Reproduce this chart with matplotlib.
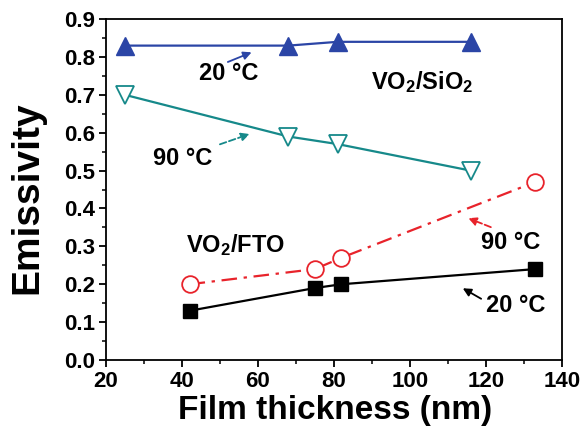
import matplotlib
matplotlib.use("Agg")
import matplotlib.pyplot as plt
from matplotlib.font_manager import FontProperties

plt.rcParams['font.family'] = ['Liberation Sans', 'DejaVu Sans']
plt.rcParams['font.weight'] = 'bold'
plt.rcParams['mathtext.fontset'] = 'custom'
plt.rcParams['mathtext.rm'] = 'Liberation Sans:bold'
plt.rcParams['mathtext.bf'] = 'Liberation Sans:bold'
plt.rcParams['mathtext.default'] = 'bf'

x_sio2 = [25, 68, 81, 116]
y_sio2_20 = [0.83, 0.83, 0.84, 0.84]
y_sio2_90 = [0.70, 0.59, 0.57, 0.50]
x_fto = [42, 75, 82, 133]
y_fto_90 = [0.20, 0.24, 0.27, 0.47]
y_fto_20 = [0.13, 0.19, 0.20, 0.24]

xticks = [20, 40, 60, 80, 100, 120, 140]
yticks = [0.0, 0.1, 0.2, 0.3, 0.4, 0.5, 0.6, 0.7, 0.8, 0.9]

blue = '#2b45a6'
teal = '#16898a'
red = '#e8232b'

fig = plt.figure(figsize=(5.84, 4.34), dpi=100)
ax = fig.add_axes([0.1815, 0.1705, 0.7805, 0.7855])

ax.plot(x_sio2, y_sio2_20, '-^', color=blue, mfc=blue, mec=blue, ms=13, lw=1.6)
ax.plot(x_sio2, y_sio2_90, '-v', color=teal, mfc='white', mec=teal, ms=13, lw=1.6, mew=1.3)
ax.plot(x_fto, y_fto_90, '-.o', color=red, mfc='white', mec=red, ms=12, lw=1.6, mew=1.3,
        dashes=[7, 3, 1.5, 3])
ax.plot(x_fto, y_fto_20, '-s', color='black', mfc='black', ms=10, lw=1.6)

ax.set_xlim(20, 140)
ax.set_ylim(0.0, 0.9)
ax.set_xticks(xticks)
ax.set_yticks(yticks)
ax.set_xticks([30, 50, 70, 90, 110, 130], minor=True)
ax.set_yticks([0.05 + 0.1 * i for i in range(9)], minor=True)
ax.tick_params(which='major', direction='out', length=5, width=1.3, pad=3)
ax.tick_params(which='minor', direction='out', length=3, width=1.1)
tfp = FontProperties(family='Liberation Sans', weight='bold', size=16)
ax.set_xticklabels([str(v) for v in xticks], fontproperties=tfp)
ax.set_yticklabels([f'{v:.1f}' for v in yticks], fontproperties=tfp)
for s in ax.spines.values():
    s.set_linewidth(1.3)

ax.set_xlabel('Film thickness (nm)', fontsize=24, fontweight='bold', va='center')
ax.set_ylabel('Emissivity', fontsize=28, fontweight='bold', va='center')
ax.xaxis.set_label_coords(0.503, -0.147)
ax.yaxis.set_label_coords(-0.173, 0.475)

fs = 17
ax.text(52.2, 0.757, '20 °C', fontsize=fs, fontweight='bold', ha='center', va='center')
ax.annotate('', xy=(59.0, 0.815), xytext=(51.4, 0.784),
            arrowprops=dict(arrowstyle='-|>', color=blue, lw=1.3, mutation_scale=12))
ax.text(40.3, 0.533, '90 °C', fontsize=fs, fontweight='bold', ha='center', va='center')
ax.annotate('', xy=(58.5, 0.599), xytext=(49.3, 0.567),
            arrowprops=dict(arrowstyle='-|>', color=teal, lw=1.3, ls='--', mutation_scale=12))
ax.text(103.3, 0.734, r'VO$_{2}$/SiO$_{2}$', fontsize=fs, fontweight='bold',
        ha='center', va='center')
ax.text(54.0, 0.303, r'VO$_{2}$/FTO', fontsize=fs, fontweight='bold',
        ha='center', va='center')
ax.text(126.5, 0.311, '90 °C', fontsize=fs, fontweight='bold', ha='center', va='center')
ax.annotate('', xy=(114.7, 0.377), xytext=(122.0, 0.348),
            arrowprops=dict(arrowstyle='-|>', color=red, lw=1.3, ls='--', mutation_scale=12))
ax.text(127.9, 0.145, '20 °C', fontsize=fs, fontweight='bold', ha='center', va='center')
ax.annotate('', xy=(113.3, 0.193), xytext=(119.4, 0.158),
            arrowprops=dict(arrowstyle='-|>', color='black', lw=1.3, mutation_scale=12))

fig.savefig('out.png', dpi=100)
